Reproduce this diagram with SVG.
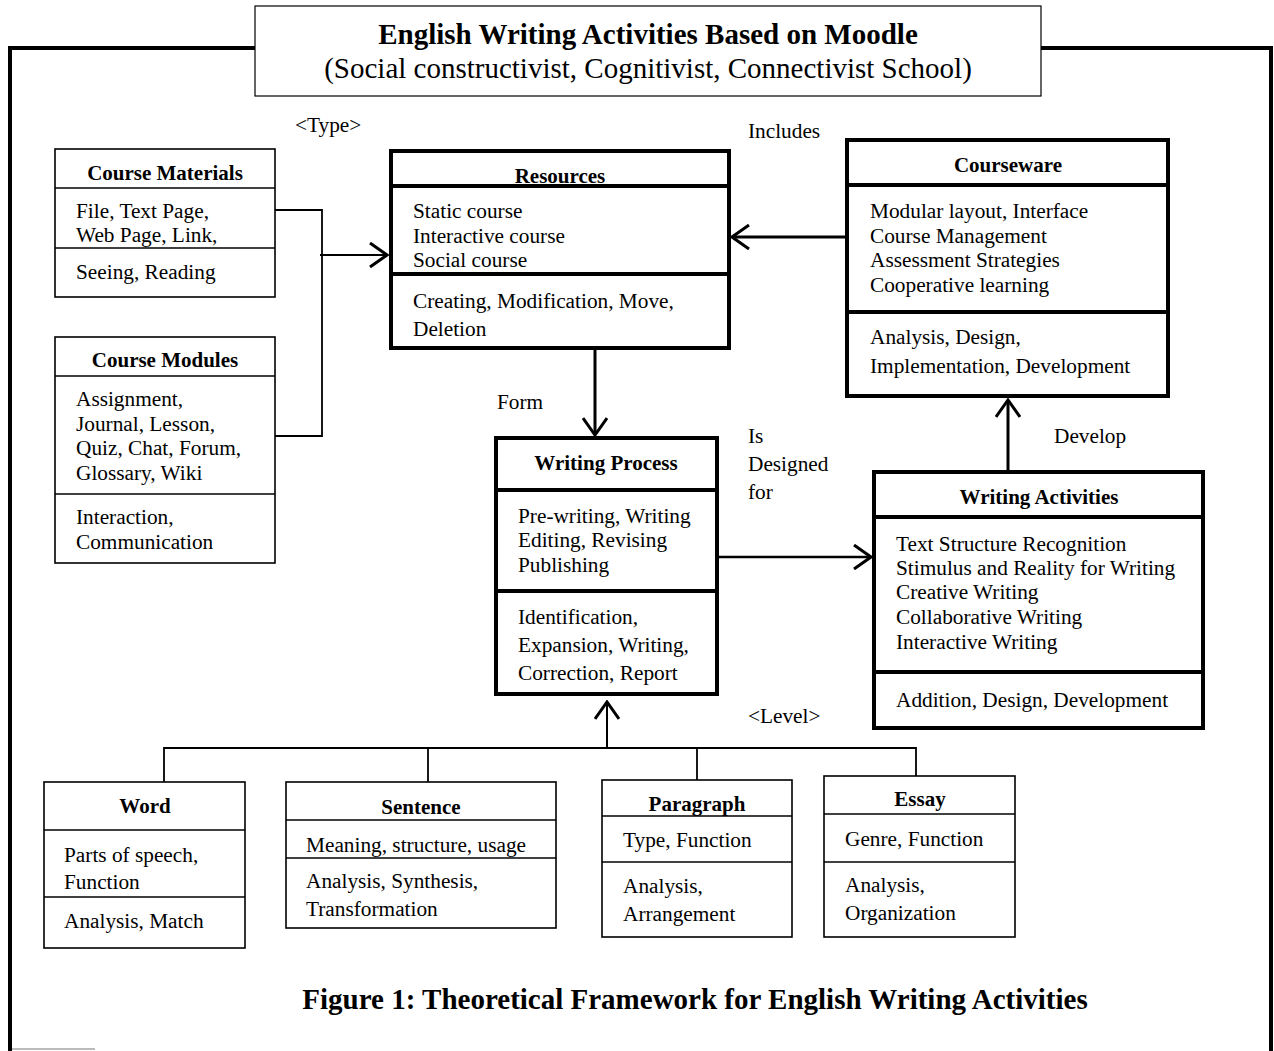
<svg xmlns="http://www.w3.org/2000/svg" width="1274" height="1051" viewBox="0 0 1274 1051">
<style>
text{font-family:"Liberation Serif","Times New Roman",serif;fill:#000}
.t{font-size:21.3px}
.h{font-size:21px;font-weight:bold}
.thin{fill:#fff;stroke:#000;stroke-width:1.6}
.thick{fill:#fff;stroke:#000;stroke-width:4}
.dl{stroke:#000;stroke-width:1.6}
.dk{stroke:#000;stroke-width:4}
.c{fill:none;stroke:#000;stroke-width:1.8}
.a{fill:none;stroke:#000;stroke-width:3}
</style>
<defs>
<marker id="arr" markerUnits="userSpaceOnUse" viewBox="0 0 20 26" refX="18" refY="13" markerWidth="20" markerHeight="26" orient="auto">
<path d="M1,1 L18,13 L1,25" fill="none" stroke="#000" stroke-width="3"/>
</marker>
</defs>
<rect width="1274" height="1051" fill="#fff"/>
<g id="frame">
<path d="M10,1051 V48 H255 M1041,48 H1271 V1051" fill="none" stroke="#000" stroke-width="4"/>
<line x1="12" y1="1049" x2="95" y2="1049" stroke="#bbb" stroke-width="2"/>
</g>
<g id="title">
<rect x="255" y="6" width="786" height="90" fill="#fff" stroke="#000" stroke-width="1.2"/>
<text x="648" y="44" text-anchor="middle" style="font-size:29px;font-weight:bold">English Writing Activities Based on Moodle</text>
<text x="648" y="78" text-anchor="middle" style="font-size:29px">(Social constructivist, Cognitivist, Connectivist School)</text>
</g>
<g id="labels">
<text class="t" x="295" y="132">&lt;Type&gt;</text>
<text class="t" x="748" y="138">Includes</text>
<text class="t" x="497" y="409">Form</text>
<text class="t" x="748" y="443">Is</text>
<text class="t" x="748" y="471">Designed</text>
<text class="t" x="748" y="499">for</text>
<text class="t" x="1054" y="443">Develop</text>
<text class="t" x="748" y="723">&lt;Level&gt;</text>
</g>
<g id="connectors">
<polyline class="c" points="275,210 322,210 322,436 275,436"/>
<line class="c" x1="320" y1="255" x2="387" y2="255" marker-end="url(#arr)" style="stroke-width:2"/>
<line class="a" x1="845" y1="237" x2="732" y2="237" marker-end="url(#arr)"/>
<line class="a" x1="595" y1="349" x2="595" y2="435" marker-end="url(#arr)"/>
<line class="a" x1="719" y1="557" x2="871" y2="557" marker-end="url(#arr)" style="stroke-width:2.5"/>
<line class="a" x1="1008" y1="470" x2="1008" y2="400" marker-end="url(#arr)"/>
<polyline class="c" points="164,782 164,748 916,748 916,776"/>
<line class="c" x1="428" y1="748" x2="428" y2="782"/>
<line class="c" x1="697" y1="748" x2="697" y2="780"/>
<line class="c" x1="607" y1="749" x2="607" y2="702" marker-end="url(#arr)" style="stroke-width:2"/>
</g>
<g id="course-materials">
<rect class="thin" x="55" y="149" width="220" height="148"/>
<line class="dl" x1="55" y1="188" x2="275" y2="188"/>
<line class="dl" x1="55" y1="248" x2="275" y2="248"/>
<text class="h" x="165" y="180" text-anchor="middle">Course Materials</text>
<text class="t" x="76" y="218">File, Text Page,</text>
<text class="t" x="76" y="242">Web Page, Link,</text>
<text class="t" x="76" y="279">Seeing, Reading</text>
</g>
<g id="course-modules">
<rect class="thin" x="55" y="337" width="220" height="226"/>
<line class="dl" x1="55" y1="376" x2="275" y2="376"/>
<line class="dl" x1="55" y1="494" x2="275" y2="494"/>
<text class="h" x="165" y="367" text-anchor="middle">Course Modules</text>
<text class="t" x="76" y="406">Assignment,</text>
<text class="t" x="76" y="431">Journal, Lesson,</text>
<text class="t" x="76" y="455">Quiz, Chat, Forum,</text>
<text class="t" x="76" y="480">Glossary, Wiki</text>
<text class="t" x="76" y="524">Interaction,</text>
<text class="t" x="76" y="549">Communication</text>
</g>
<g id="resources">
<rect class="thick" x="391" y="151" width="338" height="197"/>
<line class="dk" x1="391" y1="186" x2="729" y2="186"/>
<line class="dk" x1="391" y1="274" x2="729" y2="274"/>
<text class="h" x="560" y="183" text-anchor="middle">Resources</text>
<text class="t" x="413" y="218">Static course</text>
<text class="t" x="413" y="243">Interactive course</text>
<text class="t" x="413" y="267">Social course</text>
<text class="t" x="413" y="308">Creating, Modification, Move,</text>
<text class="t" x="413" y="336">Deletion</text>
</g>
<g id="courseware">
<rect class="thick" x="847" y="140" width="321" height="256"/>
<line class="dk" x1="847" y1="185" x2="1168" y2="185"/>
<line class="dk" x1="847" y1="312" x2="1168" y2="312"/>
<text class="h" x="1008" y="172" text-anchor="middle">Courseware</text>
<text class="t" x="870" y="218">Modular layout, Interface</text>
<text class="t" x="870" y="243">Course Management</text>
<text class="t" x="870" y="267">Assessment Strategies</text>
<text class="t" x="870" y="292">Cooperative learning</text>
<text class="t" x="870" y="344">Analysis, Design,</text>
<text class="t" x="870" y="373">Implementation, Development</text>
</g>
<g id="writing-process">
<rect class="thick" x="496" y="438" width="221" height="256"/>
<line class="dk" x1="496" y1="490" x2="717" y2="490"/>
<line class="dk" x1="496" y1="591" x2="717" y2="591"/>
<text class="h" x="606" y="470" text-anchor="middle">Writing Process</text>
<text class="t" x="518" y="523">Pre-writing, Writing</text>
<text class="t" x="518" y="547">Editing, Revising</text>
<text class="t" x="518" y="572">Publishing</text>
<text class="t" x="518" y="624">Identification,</text>
<text class="t" x="518" y="652">Expansion, Writing,</text>
<text class="t" x="518" y="680">Correction, Report</text>
</g>
<g id="writing-activities">
<rect class="thick" x="874" y="472" width="329" height="256"/>
<line class="dk" x1="874" y1="517" x2="1203" y2="517"/>
<line class="dk" x1="874" y1="672" x2="1203" y2="672"/>
<text class="h" x="1039" y="504" text-anchor="middle">Writing Activities</text>
<text class="t" x="896" y="551">Text Structure Recognition</text>
<text class="t" x="896" y="575">Stimulus and Reality for Writing</text>
<text class="t" x="896" y="599">Creative Writing</text>
<text class="t" x="896" y="624">Collaborative Writing</text>
<text class="t" x="896" y="649">Interactive Writing</text>
<text class="t" x="896" y="707">Addition, Design, Development</text>
</g>
<g id="word">
<rect class="thin" x="44" y="782" width="201" height="166"/>
<line class="dl" x1="44" y1="830" x2="245" y2="830"/>
<line class="dl" x1="44" y1="897" x2="245" y2="897"/>
<text class="h" x="145" y="813" text-anchor="middle">Word</text>
<text class="t" x="64" y="862">Parts of speech,</text>
<text class="t" x="64" y="889">Function</text>
<text class="t" x="64" y="928">Analysis, Match</text>
</g>
<g id="sentence">
<rect class="thin" x="286" y="782" width="270" height="146"/>
<line class="dl" x1="286" y1="820" x2="556" y2="820"/>
<line class="dl" x1="286" y1="858" x2="556" y2="858"/>
<text class="h" x="421" y="814" text-anchor="middle">Sentence</text>
<text class="t" x="306" y="852">Meaning, structure, usage</text>
<text class="t" x="306" y="888">Analysis, Synthesis,</text>
<text class="t" x="306" y="916">Transformation</text>
</g>
<g id="paragraph">
<rect class="thin" x="602" y="780" width="190" height="157"/>
<line class="dl" x1="602" y1="816" x2="792" y2="816"/>
<line class="dl" x1="602" y1="862" x2="792" y2="862"/>
<text class="h" x="697" y="811" text-anchor="middle">Paragraph</text>
<text class="t" x="623" y="847">Type, Function</text>
<text class="t" x="623" y="893">Analysis,</text>
<text class="t" x="623" y="921">Arrangement</text>
</g>
<g id="essay">
<rect class="thin" x="824" y="776" width="191" height="161"/>
<line class="dl" x1="824" y1="814" x2="1015" y2="814"/>
<line class="dl" x1="824" y1="862" x2="1015" y2="862"/>
<text class="h" x="920" y="806" text-anchor="middle">Essay</text>
<text class="t" x="845" y="846">Genre, Function</text>
<text class="t" x="845" y="892">Analysis,</text>
<text class="t" x="845" y="920">Organization</text>
</g>
<g id="caption">
<text x="695" y="1009" text-anchor="middle" style="font-size:29px;font-weight:bold">Figure 1: Theoretical Framework for English Writing Activities</text>
</g>
</svg>
